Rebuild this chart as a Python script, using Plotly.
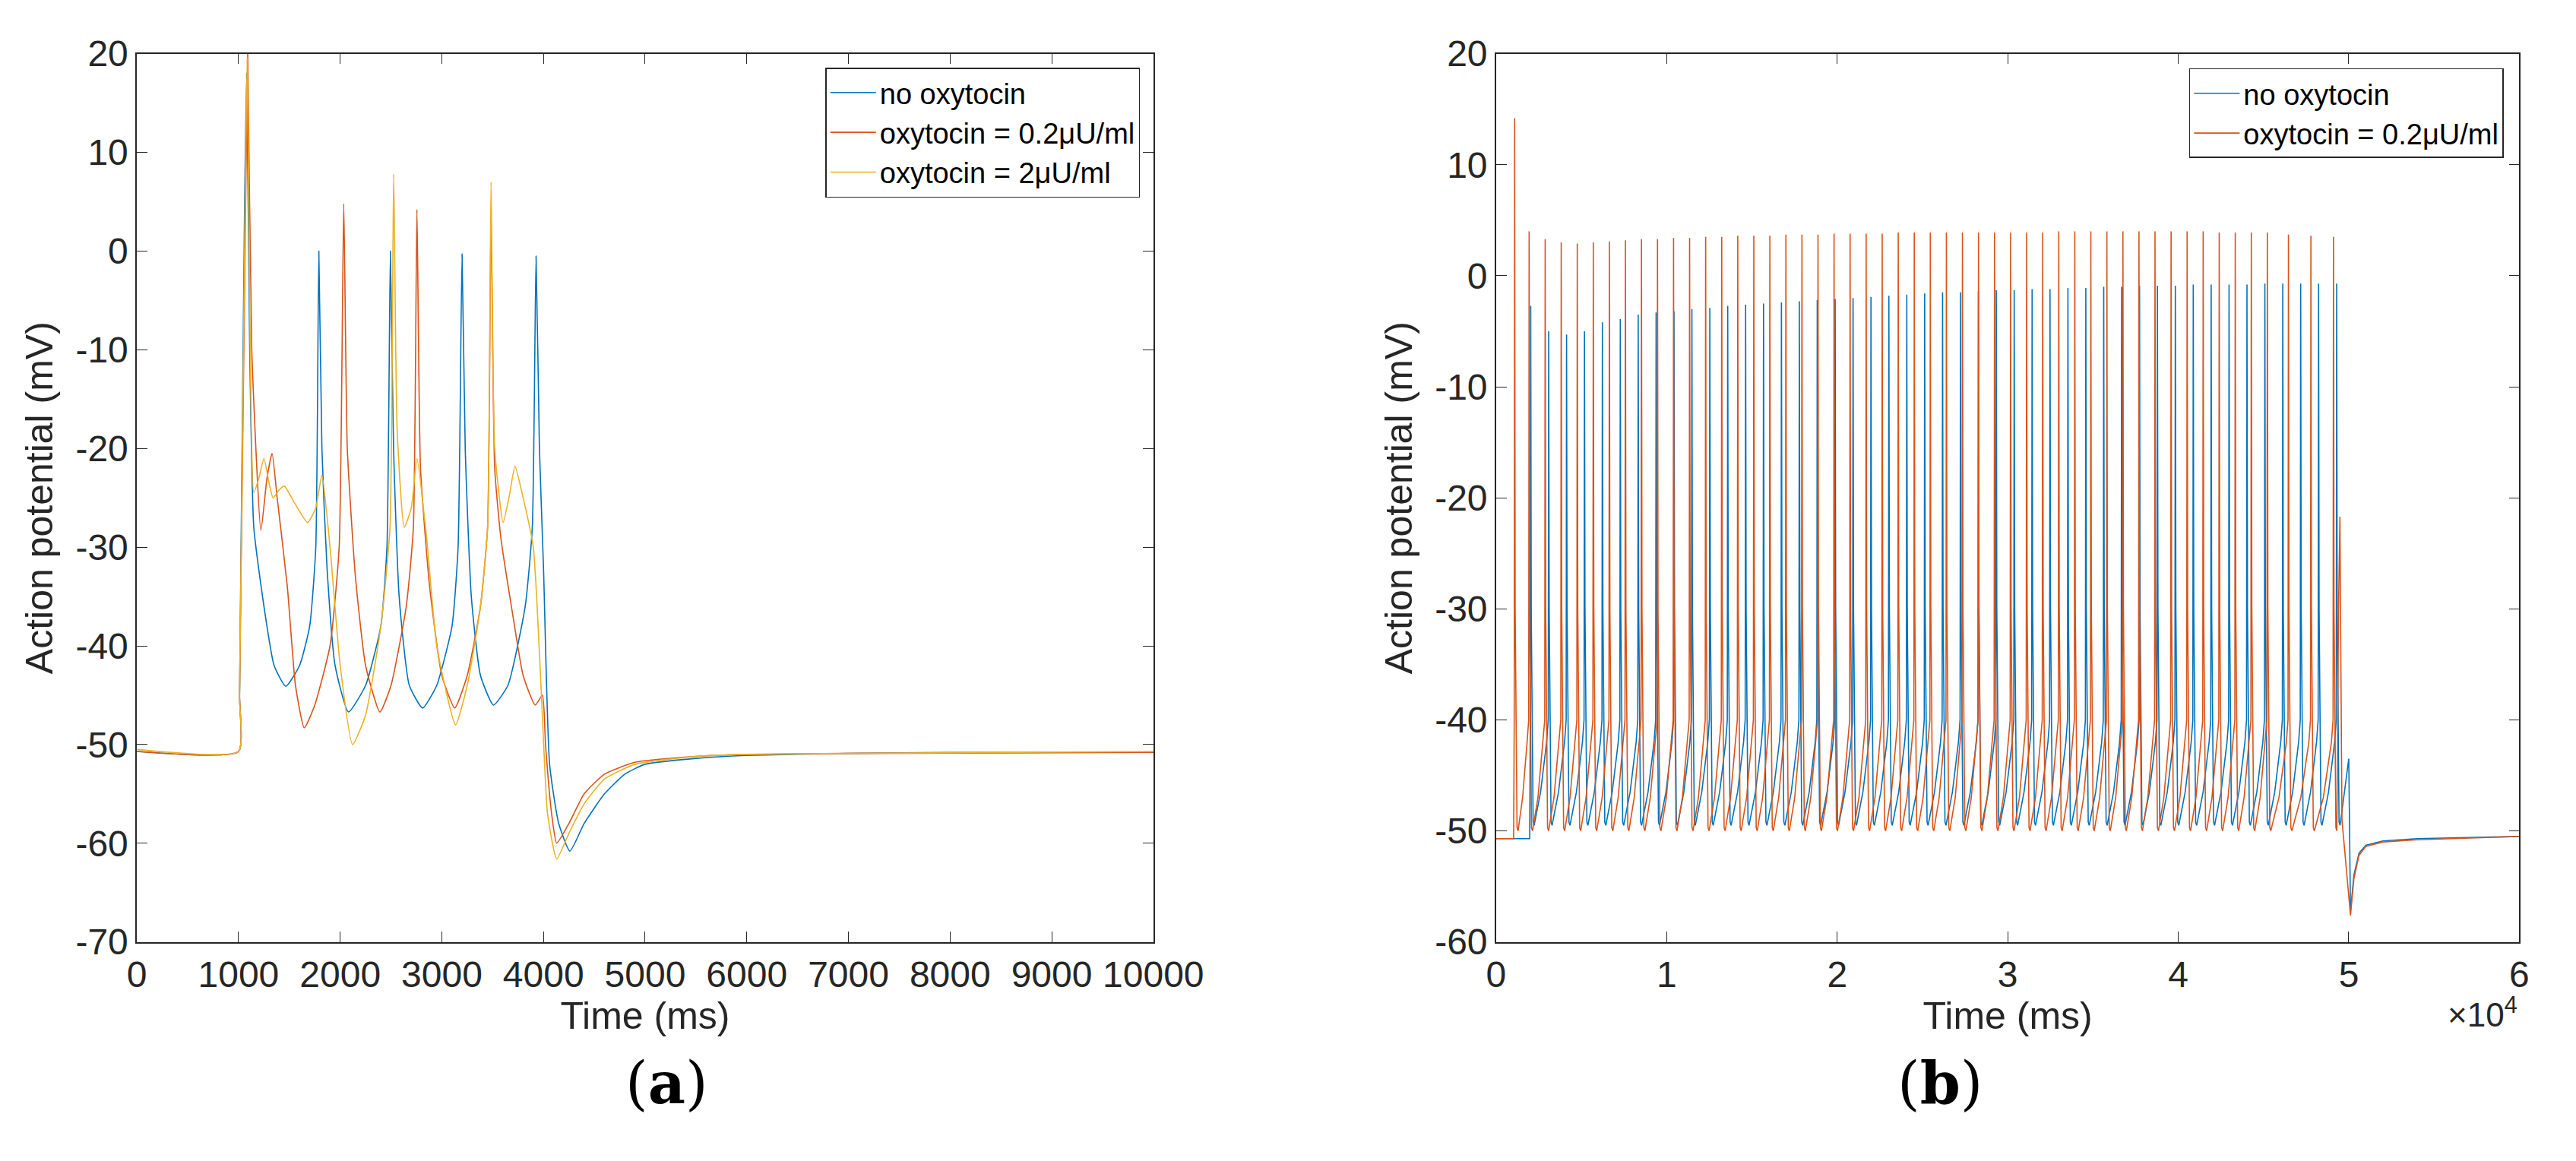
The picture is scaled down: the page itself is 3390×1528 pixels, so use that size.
import plotly.graph_objects as go

# ---------------- Panel (a): key points ----------------
a_blue_t = [0, 1000, 1010, 1060, 1080, 1110, 1150, 1250, 1350, 1465, 1600, 1700, 1760, 1790, 1820, 1870, 1950, 2082, 2250, 2400, 2460, 2494, 2525, 2580, 2680, 2811, 2950, 3100, 3160, 3199, 3230, 3290, 3380, 3508, 3650, 3820, 3890, 3927, 3960, 4000, 4060, 4150, 4260, 4400, 4600, 4800, 5000, 5500, 6000, 7000, 8000, 10000]
a_blue_v = [-50.7, -50.7, -45, 5, 18, -10, -28, -36, -42, -44.1, -42, -38, -30, 0, -20, -32, -42, -46.7, -44, -38, -30, 0, -20, -35, -44, -46.3, -44, -38, -30, -0.3, -20, -35, -43, -46.0, -44, -36, -28, -0.5, -20, -32, -52, -58, -60.8, -58, -55, -53, -52, -51.4, -51.1, -50.9, -50.8, -50.8]

a_orng_t = [0, 1000, 1010, 1070, 1090, 1130, 1220, 1280, 1330, 1380, 1480, 1560, 1647, 1750, 1900, 1990, 2035, 2070, 2150, 2250, 2391, 2500, 2650, 2720, 2755, 2790, 2880, 3000, 3127, 3250, 3380, 3450, 3484, 3520, 3580, 3700, 3800, 3919, 3990, 4020, 4080, 4130, 4250, 4400, 4600, 4900, 5500, 6000, 7000, 10000]
a_orng_v = [-50.7, -50.7, -45, 5, 20, -10, -28.3, -23, -20.5, -25, -34, -44, -48.3, -46, -40, -30, 4.8, -20, -33, -42, -46.7, -44, -36, -28, 4.2, -22, -34, -43, -46.3, -43, -36, -28, 3.5, -22, -29, -37, -43, -46.0, -45.0, -50, -57, -60.0, -58, -55, -53, -51.8, -51.2, -51.0, -50.9, -50.8]

a_yell_t = [0, 1000, 1010, 1065, 1085, 1115, 1150, 1200, 1250, 1300, 1340, 1400, 1450, 1550, 1680, 1760, 1820, 1900, 2000, 2122, 2250, 2400, 2490, 2526, 2560, 2630, 2700, 2755, 2850, 2950, 3135, 3250, 3380, 3450, 3484, 3520, 3603, 3660, 3720, 3800, 3900, 3980, 4040, 4130, 4250, 4400, 4600, 4900, 5500, 6000, 7000, 10000]
a_yell_v = [-50.5, -50.7, -45, 5, 19.5, -10, -24.5, -23, -21, -23.5, -25, -24.2, -23.8, -25.5, -27.5, -26, -22.7, -30, -42, -50.0, -47, -38, -28, 7.8, -18, -28, -26, -21, -29, -40, -48.0, -44, -36, -28, 7.0, -20, -27.5, -25, -21.8, -25, -30, -45, -57, -61.6, -59, -56, -53.5, -52, -51.2, -51.0, -50.9, -50.7]

# ---------------- Panel (b): spike times / peaks / troughs ----------------
b_blue_spk_t = [2028, 3080, 4130, 5180, 6230, 7280, 8330, 9380, 10430, 11480, 12530, 13580, 14630, 15680, 16730, 17780, 18830, 19880, 20930, 21980, 23030, 24080, 25130, 26180, 27230, 28280, 29330, 30380, 31430, 32480, 33530, 34580, 35630, 36680, 37730, 38780, 39830, 40880, 41930, 42980, 44030, 45080, 46130, 47180, 48230, 49290]
b_blue_spk_v = [-2.7, -5.0, -5.3, -5.0, -4.2, -3.9, -3.5, -3.3, -3.2, -3.0, -2.9, -2.7, -2.6, -2.5, -2.4, -2.3, -2.2, -2.1, -2.0, -1.9, -1.8, -1.7, -1.6, -1.5, -1.5, -1.4, -1.3, -1.3, -1.2, -1.2, -1.1, -1.1, -1.0, -1.0, -0.9, -0.9, -0.9, -0.8, -0.8, -0.8, -0.8, -0.7, -0.7, -0.7, -0.7, -0.7]
b_blue_trough = -49.5

b_orng_spk_t = [1085, 1934, 2875, 3816, 4757, 5698, 6640, 7581, 8522, 9463, 10404, 11345, 12286, 13228, 14169, 15110, 16051, 16992, 17933, 18874, 19816, 20757, 21698, 22639, 23580, 24521, 25462, 26404, 27345, 28286, 29227, 30168, 31109, 32050, 32992, 33933, 34874, 35815, 36756, 37697, 38638, 39580, 40521, 41462, 42403, 43344, 44285, 45226, 46462, 47780, 49104]
b_orng_spk_v = [14.2, 4.0, 3.3, 3.0, 2.9, 3.0, 3.1, 3.2, 3.3, 3.3, 3.4, 3.4, 3.5, 3.5, 3.6, 3.6, 3.6, 3.7, 3.7, 3.7, 3.8, 3.8, 3.8, 3.8, 3.9, 3.9, 3.9, 3.9, 3.9, 3.9, 3.9, 3.9, 3.9, 3.9, 4.0, 4.0, 4.0, 4.0, 4.0, 4.0, 4.0, 4.0, 4.0, 4.0, 3.9, 3.9, 3.9, 3.9, 3.7, 3.6, 3.5]
b_orng_trough = -50.0

b_tail_t = [50000, 50100, 50300, 50600, 51000, 52000, 54000, 60000]
b_blue_tail_v = [-43.5, -57.3, -54, -52, -51.3, -50.9, -50.7, -50.5]
b_orng_tail_v = [-51.5, -57.6, -54.3, -52.2, -51.4, -51.0, -50.8, -50.5]

# tick labels (MATLAB style, hyphen minus)
a_yticks = [20, 10, 0, -10, -20, -30, -40, -50, -60, -70]
b_yticks = [20, 10, 0, -10, -20, -30, -40, -50, -60]
a_xticks = [0, 1000, 2000, 3000, 4000, 5000, 6000, 7000, 8000, 9000, 10000]
b_xticks = [0, 10000, 20000, 30000, 40000, 50000, 60000]
b_xticklabels = ["0", "1", "2", "3", "4", "5", "6"]

BLUE, ORANGE, YELLOW = "#0072BD", "#D95319", "#EDB120"


def spike_train(times, peaks, trough, start_v=-50.7):
    xs, ys = [0, times[0] - 60], [start_v, start_v]
    for i, (t, p) in enumerate(zip(times, peaks)):
        xs += [t - 25, t, t + 30, t + 140, t + 200]
        ys += [-40, p, -30, trough + 0.3, trough]
        if i + 1 < len(times):
            gap = times[i + 1] - t
            xs += [t + 0.55 * gap, times[i + 1] - 120]
            ys += [trough + 3, -42]
    return xs, ys


bx, by = spike_train(b_blue_spk_t, b_blue_spk_v, b_blue_trough)
bx += b_tail_t
by += b_blue_tail_v
ox, oy = spike_train(b_orng_spk_t, b_orng_spk_v, b_orng_trough)
ox += [49400, 49480, 49600] + b_tail_t[1:]
oy += [-30, -21.7, -49] + b_orng_tail_v[1:]

fig = go.Figure()
lw = 1.6
sp = dict(shape="spline", smoothing=0.5)
fig.add_trace(go.Scatter(x=a_blue_t, y=a_blue_v, mode="lines", line=dict(color=BLUE, width=lw, **sp), name="no oxytocin", legend="legend"))
fig.add_trace(go.Scatter(x=a_orng_t, y=a_orng_v, mode="lines", line=dict(color=ORANGE, width=lw, **sp), name="oxytocin = 0.2μU/ml", legend="legend"))
fig.add_trace(go.Scatter(x=a_yell_t, y=a_yell_v, mode="lines", line=dict(color=YELLOW, width=lw, **sp), name="oxytocin = 2μU/ml", legend="legend"))
fig.add_trace(go.Scatter(x=bx, y=by, mode="lines", line=dict(color=BLUE, width=lw), name="no oxytocin", xaxis="x2", yaxis="y2", legend="legend2"))
fig.add_trace(go.Scatter(x=ox, y=oy, mode="lines", line=dict(color=ORANGE, width=lw), name="oxytocin = 0.2μU/ml", xaxis="x2", yaxis="y2", legend="legend2"))

FONT = "Liberation Sans, Arial, sans-serif"
ax_common = dict(showline=True, linecolor="#262626", linewidth=1.5, mirror="ticks", ticks="inside",
                 ticklen=14, tickcolor="#262626", showgrid=False, zeroline=False,
                 tickfont=dict(size=48, color="#262626", family=FONT))
ydom = [1 - 1249 / 1528, 1 - 38 / 1528]
leg = dict(yanchor="top", xanchor="right", bgcolor="white", bordercolor="#262626", borderwidth=1.5,
           font=dict(size=38, color="#000"), tracegroupgap=0, itemwidth=60)
fig.update_layout(
    width=3390, height=1528, margin=dict(l=0, r=0, t=0, b=0),
    plot_bgcolor="white", paper_bgcolor="white", font=dict(family=FONT, color="#262626"),
    xaxis=dict(domain=[163 / 3390, 1533 / 3390], range=[0, 10000], anchor="y",
               tickvals=a_xticks, ticktext=[str(v) for v in a_xticks],
               title=dict(text="Time (ms)", font=dict(size=50), standoff=6), **ax_common),
    yaxis=dict(domain=ydom, range=[-70, 20], anchor="x",
               tickvals=a_yticks, ticktext=[str(v) for v in a_yticks],
               title=dict(text="Action potential (mV)", font=dict(size=50), standoff=14), **ax_common),
    xaxis2=dict(domain=[1995 / 3390, 3374 / 3390], range=[0, 60000], anchor="y2",
                tickvals=b_xticks, ticktext=b_xticklabels,
                title=dict(text="Time (ms)", font=dict(size=50), standoff=6), **ax_common),
    yaxis2=dict(domain=ydom, range=[-60, 20], anchor="x2",
                tickvals=b_yticks, ticktext=[str(v) for v in b_yticks],
                title=dict(text="Action potential (mV)", font=dict(size=50), standoff=14), **ax_common),
    legend=dict(x=1515 / 3390, y=1 - 57 / 1528, **leg),
    legend2=dict(x=3353 / 3390, y=1 - 58 / 1528, **leg),
    showlegend=True,
    annotations=[
        dict(text="×10<sup>4</sup>", x=3374 / 3390, y=1 - 1345 / 1528, xref="paper", yref="paper",
             xanchor="right", yanchor="middle", showarrow=False, font=dict(size=44, color="#262626")),
        dict(text="(<b>a</b>)", x=819 / 3390, y=1 - 1490 / 1528, xref="paper", yref="paper",
             showarrow=False, font=dict(size=76, family="DejaVu Serif, Liberation Serif, serif", color="#000")),
        dict(text="(<b>b</b>)", x=2653 / 3390, y=1 - 1490 / 1528, xref="paper", yref="paper",
             showarrow=False, font=dict(size=76, family="DejaVu Serif, Liberation Serif, serif", color="#000")),
    ],
)
fig.write_html("out.html")
